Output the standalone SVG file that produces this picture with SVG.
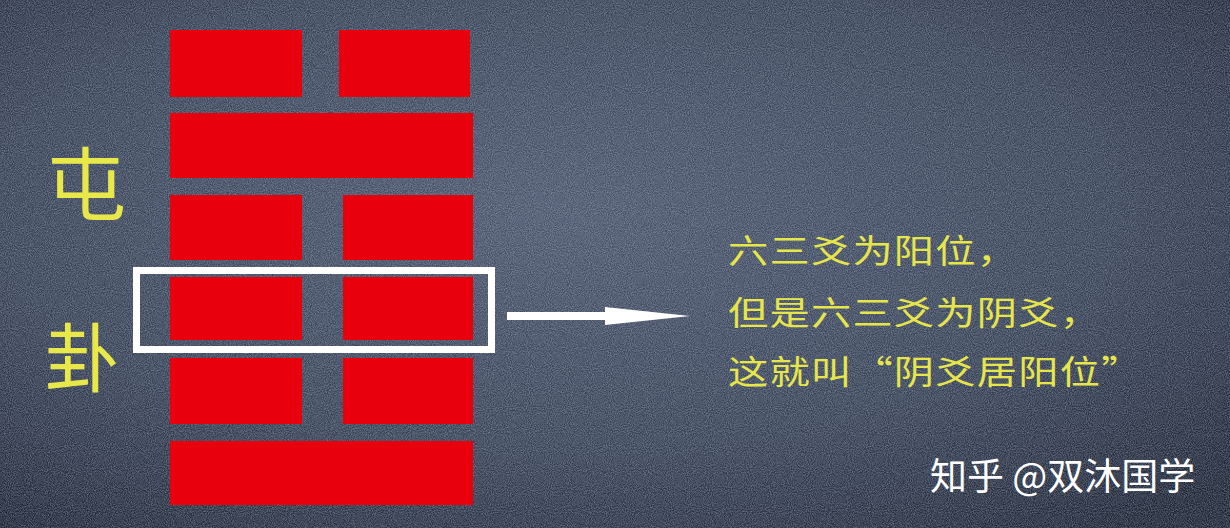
<svg xmlns="http://www.w3.org/2000/svg" width="1230" height="528" viewBox="0 0 1230 528">
  <defs>
    <radialGradient id="bg" cx="0.45" cy="0.4" r="0.75">
      <stop offset="0" stop-color="#4a556c"/>
      <stop offset="0.6" stop-color="#364054"/>
      <stop offset="1" stop-color="#1c2333"/>
    </radialGradient>
    <filter id="noise" x="0" y="0" width="100%" height="100%">
      <feTurbulence type="fractalNoise" baseFrequency="0.95" numOctaves="2" seed="3" result="n"/>
      <feColorMatrix in="n" type="matrix" values="0 0 0 0 0.62  0 0 0 0 0.68  0 0 0 0 0.8  0 0 0 1.1 -0.3"/>
    </filter>
    <marker id="arrow" markerUnits="userSpaceOnUse" markerWidth="86" markerHeight="20" refX="0" refY="10" orient="auto">
      <path d="M0,1 L85,10 L0,19 Z" fill="#ffffff"/>
    </marker>
    <style>
      .yao { fill: #e8000d; }
      .label { font-family: "Noto Sans CJK SC", "Noto Sans", sans-serif; fill: #e8e84a; font-weight: 400; }
      .note { font-family: "Noto Sans CJK SC", "Noto Sans", sans-serif; fill: #e6e64a; font-size: 33px; font-weight: 400; letter-spacing: 1px; }
      .wm { font-family: "Noto Sans CJK SC", "Noto Sans", sans-serif; fill: #ffffff; font-size: 37px; }
    </style>
  </defs>
  <rect x="0" y="0" width="1230" height="528" fill="url(#bg)"/>
  <rect x="0" y="0" width="1230" height="528" filter="url(#noise)" opacity="0.6"/>

  <g id="title">
    <text class="label" x="86" y="214" font-size="80" text-anchor="middle">屯</text>
    <text class="label" x="82" y="386" font-size="75" text-anchor="middle">卦</text>
  </g>

  <g id="hexagram">
    <g id="line6"><rect class="yao" x="170" y="30" width="132" height="67"/><rect class="yao" x="339" y="30" width="131" height="67"/></g>
    <g id="line5"><rect class="yao" x="170" y="113" width="303" height="65"/></g>
    <g id="line4"><rect class="yao" x="170" y="195" width="132" height="65"/><rect class="yao" x="343" y="195" width="130" height="65"/></g>
    <g id="line3"><rect class="yao" x="170" y="277" width="132" height="63"/><rect class="yao" x="343" y="277" width="130" height="63"/></g>
    <g id="line2"><rect class="yao" x="170" y="358" width="132" height="66"/><rect class="yao" x="343" y="358" width="130" height="66"/></g>
    <g id="line1"><rect class="yao" x="170" y="441" width="303" height="64"/></g>
  </g>

  <g id="highlight">
    <rect x="136.5" y="270.5" width="355" height="79" fill="none" stroke="#ffffff" stroke-width="7"/>
  </g>

  <g id="connectors">
    <line x1="507" y1="316" x2="605" y2="316" stroke="#ffffff" stroke-width="8" marker-end="url(#arrow)"/>
  </g>

  <g id="note" transform="translate(728,0) scale(1.22,1)">
    <text class="note" x="0" y="263">六三爻为阳位，</text>
    <text class="note" x="0" y="325">但是六三爻为阴爻，</text>
    <text class="note" x="0" y="384">这就叫“阴爻居阳位”</text>
  </g>

  <g id="watermark">
    <text class="wm" x="930" y="490">知乎 @双沐国学</text>
  </g>
</svg>
